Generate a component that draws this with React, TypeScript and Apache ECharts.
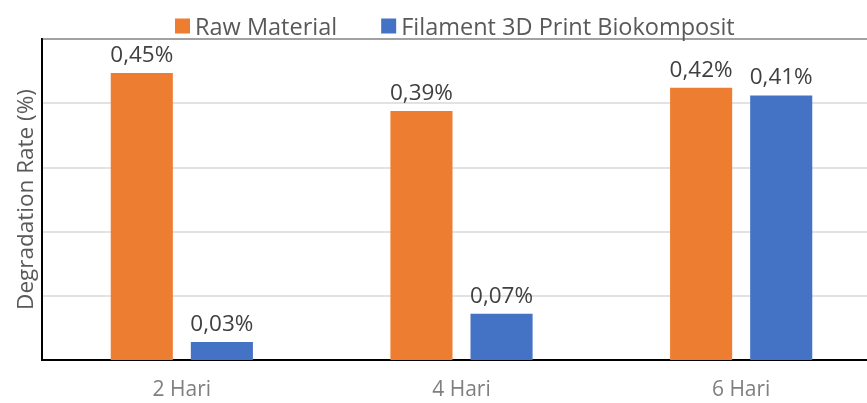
import React, { useEffect, useRef } from "react";
import * as echarts from "echarts";

const categories = ["2 Hari", "4 Hari", "6 Hari"];
const rawMaterial = [0.447, 0.388, 0.424];
const filament = [0.028, 0.072, 0.412];
const seriesNames = ["Raw Material", "Filament 3D Print Biokomposit"];
const yAxisName = "Degradation Rate (%)";

const FONT = "'Open Sans', sans-serif";

export default function App() {
  const ref = useRef<HTMLDivElement>(null);
  useEffect(() => {
    if (!ref.current) return;
    const chart = echarts.init(ref.current, null, { renderer: "svg" });
    const fmt = (p: any) => Number(p.value).toFixed(2).replace(".", ",") + "%";
    const label = {
      show: true,
      position: "top",
      distance: 8,
      formatter: fmt,
      color: "#404040",
      fontFamily: FONT,
      fontSize: 22.5,
    };
    chart.setOption({
      animation: false,
      textStyle: { fontFamily: FONT },
      legend: {
        left: 170,
        top: 9,
        itemWidth: 15,
        itemHeight: 15,
        itemGap: 44,
        icon: "rect",
        textStyle: { color: "#595959", fontSize: 23.5, fontFamily: FONT },
        data: seriesNames,
      },
      grid: {
        left: 42,
        top: 39,
        right: -14,
        bottom: 43,
        containLabel: false,
        outerBoundsMode: "none",
        show: true,
        borderColor: "#000",
        borderWidth: 2,
      },
      xAxis: {
        type: "category",
        data: categories,
        axisLine: { show: true, lineStyle: { color: "#000", width: 2 } },
        axisTick: { show: false },
        axisLabel: { color: "#7f7f7f", fontSize: 21, fontFamily: FONT, margin: 17 },
      },
      yAxis: {
        type: "value",
        min: 0,
        max: 0.5,
        interval: 0.1,
        name: yAxisName,
        nameLocation: "middle",
        nameGap: 6,
        nameTextStyle: { color: "#595959", fontSize: 22.5, fontFamily: FONT },
        axisLine: { show: true, lineStyle: { color: "#000", width: 2 } },
        axisTick: { show: false },
        axisLabel: { show: false },
        splitLine: { show: true, lineStyle: { color: "#d9d9d9", width: 1.5 } },
      },
      series: [
        {
          name: seriesNames[0],
          type: "bar",
          data: rawMaterial,
          barWidth: "22.2%",
          barGap: "29%",
          itemStyle: { color: "#ed7d31" },
          label,
        },
        {
          name: seriesNames[1],
          type: "bar",
          data: filament,
          barWidth: "22.2%",
          barGap: "29%",
          itemStyle: { color: "#4472c4" },
          label,
        },
      ],
    });
    return () => chart.dispose();
  }, []);
  return (
    <div
      ref={ref}
      style={{ position: "fixed", left: 0, top: 0, width: 867, height: 403, overflow: "hidden" }}
    />
  );
}
